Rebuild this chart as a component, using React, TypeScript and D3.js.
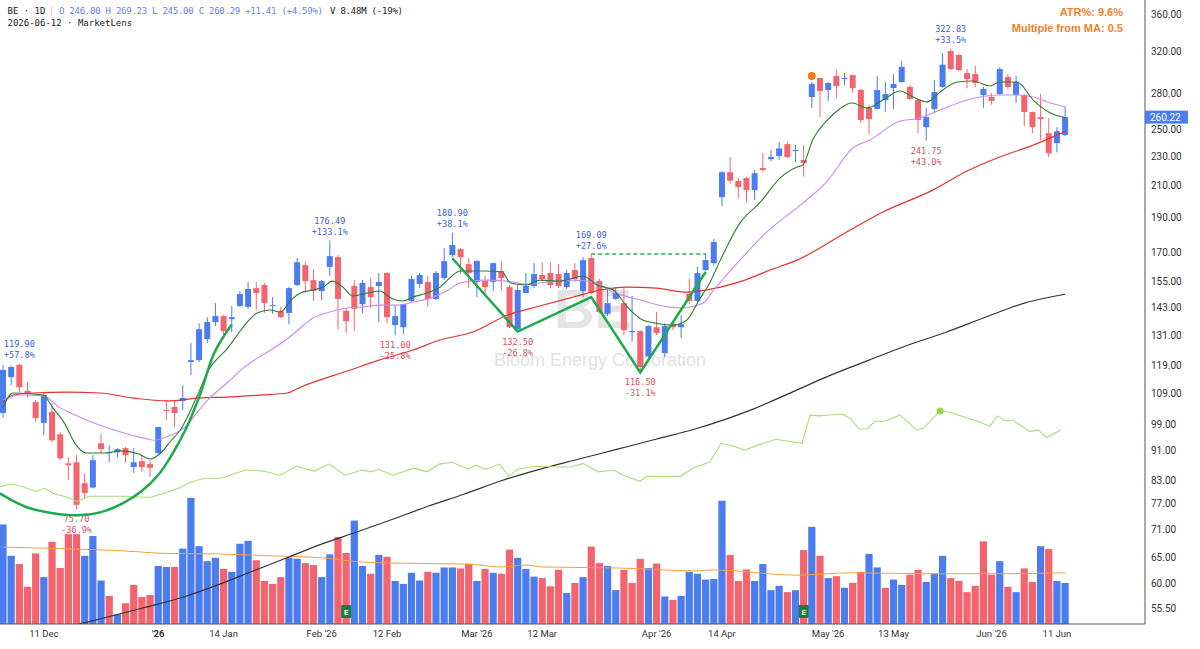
import * as d3 from "d3";

const W = 1200;
const H = 649;
const PLOT_R = 1145;
const PLOT_B = 624;

const BLUE = "#4b7cf0";
const RED = "#f4646f";

// daily bars, bar 0 = 4 Dec 2025 ... bar 130 = 12 Jun 2026
const opens = [
  102.5, 114.8, 119.3, 109.9, 106.1, 99.4, 102.9, 95.9, 87.5, 87.8,
  82.2, 81.1, 93.2, 90.4, 90.6, 91.8, 86.5, 88.1, 87.3, 90.4,
  103.5, 104.5, 106.5, 120.4, 121.1, 129.4, 136.5, 139.1, 137.8, 143.6,
  143.2, 151.9, 153.4, 143.6, 141.4, 140.5, 153.4, 163.3, 155.8, 150.5,
  162.4, 167.5, 141.4, 152.9, 144.4, 152.4, 152.9, 159.3, 135.2, 134.3,
  145.9, 153.9, 154.9, 146.8, 156.8, 168.5, 171.8, 163.8, 154.9, 155.3,
  154.9, 160.3, 152.4, 133.5, 149.6, 152.9, 158.3, 159.3, 158.8, 152.4,
  160.8, 150.5, 167.0, 155.3, 140.1, 146.8, 144.9, 132.2, 132.7, 122.6,
  134.3, 123.8, 135.6, 134.3, 149.1, 145.9, 160.8, 164.3, 202.3, 218.8,
  212.8, 214.8, 206.8, 221.7, 228.0, 230.2, 239.0, 233.8, 227.3, 277.2,
  294.3, 283.4, 296.2, 293.4, 297.1, 283.4, 267.9, 267.0, 274.6, 285.2,
  290.6, 286.1, 274.6, 252.1, 267.0, 286.1, 320.4, 316.4, 299.0, 298.0,
  279.0, 277.2, 279.8, 295.2, 279.0, 279.0, 264.4, 260.2, 247.4, 239.8,
  246.0,
];
const highs = [
  119.3, 119.0, 119.9, 113.0, 106.8, 109.5, 105.8, 96.5, 89.2, 89.8,
  84.9, 89.8, 95.9, 92.6, 91.8, 92.1, 91.8, 89.8, 88.4, 98.2,
  106.8, 106.8, 111.9, 127.8, 136.0, 138.6, 144.9, 139.5, 143.6, 150.5,
  154.9, 154.9, 154.4, 147.7, 143.2, 152.4, 167.0, 164.8, 161.3, 155.8,
  176.49, 168.5, 142.7, 155.8, 155.8, 156.8, 159.3, 159.8, 143.6, 144.6,
  157.8, 159.3, 157.8, 160.3, 172.3, 180.9, 172.3, 167.0, 165.9, 157.8,
  164.8, 165.4, 153.4, 153.4, 159.3, 164.3, 164.8, 164.8, 163.8, 160.8,
  164.3, 167.5, 169.09, 156.3, 151.9, 151.9, 151.9, 148.2, 133.1, 135.2,
  141.0, 136.0, 136.5, 139.5, 156.3, 162.4, 169.6, 177.2, 219.5, 229.5,
  214.8, 215.5, 220.3, 232.4, 234.6, 240.6, 240.6, 238.3, 238.3, 290.6,
  294.8, 290.6, 301.8, 299.0, 297.5, 284.3, 270.5, 296.2, 290.6, 298.0,
  310.5, 287.9, 275.5, 267.9, 292.5, 318.3, 322.83, 317.4, 302.7, 306.0,
  286.1, 280.7, 304.6, 298.0, 296.2, 279.8, 264.8, 279.8, 259.4, 252.1,
  269.23,
];
const lows = [
  101.0, 111.9, 109.5, 107.5, 99.7, 95.6, 93.5, 88.4, 83.0, 75.7,
  78.3, 80.9, 90.4, 87.8, 89.0, 87.8, 84.9, 85.2, 83.8, 89.8,
  100.3, 98.1, 103.5, 115.5, 120.4, 127.8, 134.8, 130.2, 132.2, 143.2,
  142.3, 141.8, 140.5, 140.1, 138.2, 135.6, 152.9, 150.0, 145.9, 146.3,
  157.8, 133.5, 131.9, 132.7, 140.5, 142.7, 136.5, 136.0, 131.0, 131.4,
  145.4, 151.9, 143.2, 146.3, 155.8, 167.5, 158.8, 151.9, 147.7, 149.6,
  150.5, 151.0, 134.0, 132.5, 149.6, 151.9, 154.9, 151.9, 151.9, 151.5,
  154.9, 147.7, 149.0, 140.5, 139.1, 146.3, 131.0, 128.2, 116.5, 122.2,
  131.0, 122.2, 133.1, 129.8, 144.4, 145.4, 160.3, 163.3, 196.6, 211.0,
  201.7, 199.1, 200.4, 218.8, 226.6, 227.3, 228.7, 225.9, 215.7, 267.9,
  260.4, 273.8, 276.3, 287.9, 280.9, 255.4, 246.6, 266.5, 264.4, 267.0,
  290.0, 274.6, 247.4, 241.75, 263.6, 285.5, 301.8, 300.9, 285.2, 286.1,
  267.9, 270.5, 279.0, 284.3, 272.0, 252.9, 247.4, 242.1, 229.5, 232.9,
  245.0,
];
const closes = [
  117.4, 118.5, 111.2, 108.9, 100.9, 108.5, 94.1, 88.9, 87.0, 76.8,
  79.7, 88.4, 91.5, 90.6, 91.5, 89.8, 87.8, 86.5, 86.3, 98.1,
  103.2, 102.5, 107.5, 121.1, 133.5, 136.5, 139.1, 132.7, 138.6, 149.1,
  151.5, 149.6, 145.0, 144.0, 138.7, 151.9, 164.8, 155.3, 150.5, 155.3,
  168.0, 146.8, 136.9, 142.3, 154.4, 147.7, 154.9, 138.7, 139.1, 144.4,
  156.3, 158.3, 146.8, 159.3, 165.4, 174.0, 167.5, 159.3, 165.4, 152.4,
  164.3, 156.8, 134.3, 151.0, 152.9, 158.8, 156.3, 153.4, 152.9, 159.3,
  156.3, 165.9, 149.6, 140.9, 144.9, 149.6, 133.1, 132.7, 118.5, 134.8,
  131.9, 134.8, 134.3, 135.6, 145.9, 159.3, 165.9, 175.6, 218.8, 213.0,
  208.8, 206.8, 218.1, 220.3, 229.5, 235.8, 229.5, 234.6, 225.2, 288.8,
  282.5, 289.7, 287.0, 294.3, 285.2, 257.8, 258.6, 283.4, 279.8, 288.8,
  304.9, 275.5, 257.8, 260.2, 281.6, 306.9, 302.7, 301.8, 293.4, 289.7,
  284.3, 273.8, 302.7, 286.1, 290.6, 264.4, 252.1, 258.6, 232.2, 248.88,
  260.29,
];
// volume, millions of shares
const volumes = [
  20.6, 14.1, 12.4, 7.7, 14.6, 9.7, 17.0, 11.6, 18.6, 18.6,
  14.1, 18.2, 9.0, 5.8, 2.0, 4.3, 8.1, 5.6, 6.0, 12.0,
  11.8, 11.8, 15.6, 26.1, 16.1, 13.0, 13.7, 11.4, 10.8, 16.6,
  17.2, 13.2, 8.9, 8.3, 9.7, 13.7, 13.5, 12.6, 12.2, 9.7,
  14.4, 18.0, 14.7, 21.4, 12.0, 10.4, 14.3, 13.9, 8.9, 8.3,
  10.6, 9.0, 10.8, 10.6, 11.7, 11.7, 11.5, 12.4, 8.9, 11.4,
  10.6, 10.4, 15.4, 13.7, 11.4, 9.8, 9.5, 7.8, 11.2, 6.4,
  8.5, 9.7, 16.0, 12.6, 12.0, 7.0, 11.2, 8.5, 13.5, 11.6,
  12.5, 5.7, 5.0, 5.8, 10.8, 10.4, 9.2, 9.3, 25.5, 14.3,
  8.9, 11.3, 8.9, 12.4, 7.0, 7.9, 6.6, 7.0, 15.3, 20.1,
  14.1, 9.5, 9.9, 7.5, 8.5, 10.8, 14.5, 11.7, 7.5, 9.2,
  8.1, 10.2, 11.2, 8.7, 10.4, 14.1, 9.5, 8.9, 6.6, 7.9,
  17.1, 10.2, 13.0, 7.7, 6.6, 11.5, 8.7, 16.1, 15.5, 8.9,
  8.48,
];

// indicator lines: [bar, value]
const ema10 = [
  [0, 104.2], [1.2, 109.2], [4.9, 108.5], [6.1, 104.2], [7.5, 99.4], [8.8, 93.2],
  [10.2, 90.4], [12.4, 90.4], [14.4, 91.0], [16.6, 90.1], [18, 88.7], [19.3, 90.4],
  [20.6, 94.1], [21.7, 97.2], [23.7, 107.8], [25.3, 118.1], [26.2, 121.5], [27.4, 125.4],
  [28.6, 130.7], [29.9, 136.5], [31.1, 140.5], [32.7, 141.8], [33.9, 140.9], [35.5, 147.2],
  [36.4, 149.6], [37.9, 151.0], [39.2, 152.4], [40.3, 155.3], [41.6, 152.4], [42.8, 148.2],
  [44.6, 149.6], [46.1, 150.5], [47.7, 146.8], [49, 145.9], [50.2, 147.7], [51.9, 149.6],
  [53.5, 152.4], [55.1, 158.3], [55.9, 160.3], [58.8, 160.3], [61.1, 159.8], [62.1, 154.4],
  [64.1, 153.4], [65.7, 155.8], [68.2, 155.3], [71, 157.8], [72.7, 153.4], [74.7, 151.0],
  [76.4, 143.2], [78.3, 137.4], [79.9, 136.0], [82, 135.2], [83.7, 137.4], [85.2, 146.3],
  [86.5, 154.4], [87.8, 165.9], [90.2, 186.4], [92.7, 199.1], [95.1, 214.8], [97.2, 222.4],
  [97.9, 223.8], [99.1, 242.1], [100.9, 257.8], [102.4, 267.0], [103.9, 272.0], [105.8, 267.9],
  [107.7, 274.6], [109.8, 282.5], [111.4, 277.2], [113.1, 273.0], [114.7, 281.6], [116.8, 290.6],
  [118.7, 291.5], [120.8, 287.0], [122, 290.6], [124.1, 290.6], [126.1, 274.6], [128.2, 263.6],
  [130, 259.8],
];
const ema21 = [
  [0, 106.8], [2.1, 108.5], [4.9, 108.2], [7, 104.2], [8.3, 102.5], [10.5, 100.0],
  [13.6, 97.2], [17.1, 94.8], [18.5, 94.1], [20.2, 95.3], [22.4, 98.4], [24.1, 103.8],
  [25.3, 107.5], [27.4, 112.6], [29.4, 118.1], [31.5, 122.6], [33.5, 126.5], [35.5, 131.4],
  [37.9, 138.2], [40, 140.9], [42.1, 142.7], [44.1, 143.2], [46.1, 144.0], [48.2, 144.0],
  [50.2, 145.4], [52.3, 147.2], [54.3, 150.5], [55.9, 154.4], [58.8, 155.8], [61.7, 155.3],
  [64.1, 153.9], [67, 154.9], [69.8, 155.8], [72.2, 154.9], [74.7, 150.0], [78, 146.3],
  [81.3, 143.2], [83.2, 142.7], [85.7, 144.9], [87, 151.0], [90.2, 165.9], [93.5, 181.3],
  [97.9, 198.5], [100.9, 212.8], [104, 236.1], [106.1, 242.1], [109.8, 257.0], [112.2, 259.4],
  [114.7, 266.1], [118, 274.6], [122, 279.0], [124.1, 279.0], [126.1, 277.2], [128.2, 272.0],
  [130, 268.8],
];
const sma50 = [
  [0, 106.1], [1.2, 108.5], [3.7, 109.2], [7.8, 109.5], [11.9, 109.2], [15.9, 107.5],
  [20.1, 106.5], [24.1, 107.5], [27.4, 107.8], [31.5, 108.5], [34.8, 109.2], [36.4, 111.2],
  [42.5, 117.4], [46, 121.1], [50.2, 125.0], [53.5, 129.0], [57.5, 132.3], [61.7, 139.5],
  [65.7, 143.6], [69.8, 147.7], [73.1, 151.0], [76.4, 152.4], [80, 151.9], [83.7, 150.0],
  [87.8, 152.4], [90.8, 155.8], [93.9, 160.8], [97.2, 165.9], [103.7, 182.4], [107.7, 193.0],
  [113.8, 206.8], [118, 219.6], [122, 229.5], [126.1, 238.3], [130, 248.6],
];
const sma200 = [
  [0, 50.0], [10.3, 53.1], [17.1, 55.5], [22.4, 57.6], [25.8, 59.4], [30.2, 62.1],
  [34.6, 64.9], [38.9, 67.8], [43.3, 70.5], [47.7, 73.4], [52.1, 76.5], [56.4, 79.4],
  [60.8, 82.7], [65.2, 85.6], [70.5, 88.7], [75.2, 91.5], [79.9, 94.4], [84.7, 97.5],
  [91.8, 103.8], [96.6, 109.5], [101.3, 115.5], [106, 121.1], [110.8, 127.0], [115.5, 132.3],
  [120.3, 138.7], [125, 144.9], [130, 149.0],
];
// relative strength line, plotted on the price scale
const rsLine = [
  [-0.4, 81.3], [1, 82.0], [2.2, 81.4], [4, 80.1], [5.1, 80.9], [6.2, 79.6], [8, 78.6],
  [9.1, 77.6], [10.5, 78.9], [12.7, 78.9], [14.9, 78.9], [18, 78.6], [19.3, 79.4],
  [21.5, 80.9], [22.8, 82.3], [24.6, 83.5], [26.7, 83.5], [28, 84.5], [29.7, 85.7],
  [31.9, 85.4], [33.9, 84.3], [35.9, 86.7], [38.1, 85.4], [39.9, 87.3], [41.9, 84.3],
  [43.9, 85.7], [45, 85.2], [46, 85.9], [47.7, 84.3], [50.3, 86.2], [51.9, 85.2],
  [53.4, 87.3], [55, 87.8], [56.9, 85.9], [57.8, 87.0], [59.1, 85.9], [60.8, 87.3],
  [61.9, 84.0], [63, 85.9], [65.2, 86.7], [68.1, 86.5], [69.5, 86.5], [71, 87.5],
  [72.8, 85.2], [74.8, 85.7], [75.9, 84.3], [78, 82.7], [78.8, 84.0], [80.9, 84.0],
  [82.9, 84.0], [84.7, 86.5], [86.5, 87.8], [87.9, 93.2], [89.5, 92.3], [90.8, 91.2],
  [92.3, 92.6], [94.6, 94.4], [96.1, 93.8], [97.8, 93.2], [98.8, 101.9], [99.9, 101.6],
  [101.1, 101.9], [102.7, 102.2], [103.7, 100.9], [104.8, 97.5], [105.8, 97.5], [106.7, 99.9],
  [108, 99.9], [109.8, 101.9], [111.8, 97.2], [112.7, 97.8], [114.7, 103.2], [116, 102.7],
  [117.9, 101.0], [119.3, 99.9], [120.8, 98.3], [121.7, 101.6], [122.6, 100.1], [123.6, 100.3],
  [125, 97.8], [125.7, 96.7], [126.7, 97.2], [127.7, 94.9], [129.5, 97.2],
];
const rsHigh = [114.7, 103.2];
const volMA = [
  [0, 15.9], [5, 15.7], [9, 15.5], [15, 15.1], [20, 14.6], [26, 14.5], [33, 14.1],
  [39, 13.7], [44, 12.8], [48, 12.6], [57, 12.4], [61, 11.8], [64, 12.2], [66, 11.8],
  [75, 11.6], [85, 11.0], [87, 11.2], [97, 10.1], [104, 10.6], [113, 10.4], [122, 10.4],
  [130, 10.6],
];

// pattern drawings
const cupCurve = [
  [-0.4, 79.6], [2.9, 76.2], [6.1, 74.8], [9.1, 74.3], [11.9, 75.0], [14.7, 77.2],
  [17.1, 80.4], [19.2, 84.9], [20.8, 90.4], [22.5, 98.1], [24.1, 108.5], [25.9, 124.2],
  [28, 135.5],
];
const zigzag = [[55, 166.9], [63, 132.5], [72, 147.7], [78, 116.5], [86, 159.8]];
const pivotLine = { from: 72, to: 86, price: 169.09 };

const pivotIdx = [2, 9, 40, 48, 55, 63, 72, 78, 113, 116];
const pivotPrice = [119.9, 75.7, 176.49, 131.0, 180.9, 132.5, 169.09, 116.5, 241.75, 322.83];
const pivotPct = ["+57.8%", "-36.9%", "+133.1%", "-25.8%", "+38.1%", "-26.8%", "+27.6%", "-31.1%", "+43.0%", "+33.5%"];
const pivotKind = ["H", "L", "H", "L", "H", "L", "H", "L", "L", "H"];

const earningsIdx = [42, 98];
const signalIdx = 99;

const priceTicks = [360, 320, 280, 250, 230, 210, 190, 170, 155, 143, 131, 119, 109, 99, 91, 83, 77, 71, 65, 60, 55.5];
const dateIdx = [5, 19, 27, 39, 47, 58, 66, 80, 88, 101, 109, 121, 129];
const dateText = ["11 Dec", "'26", "14 Jan", "Feb '26", "12 Feb", "Mar '26", "12 Mar", "Apr '26", "14 Apr", "May '26", "13 May", "Jun '26", "11 Jun"];
const lastPrice = 260.22;

const MONO = "'DejaVu Sans Mono', monospace";
const SANS = "Roboto, 'Liberation Sans', Arial, sans-serif";

export default function App() {
  const x = d3.scaleLinear().domain([0, 130]).range([3, 3 + 130 * 8.17]);
  const y = d3.scaleLog().domain([55.5, 360]).range([608, 14]);
  const yv = d3.scaleLinear().domain([0, 30]).range([PLOT_B, PLOT_B - 145]);

  const smooth = d3
    .line<number[]>()
    .x((d) => x(d[0]))
    .y((d) => y(d[1]))
    .curve(d3.curveMonotoneX);
  const straight = d3
    .line<number[]>()
    .x((d) => x(d[0]))
    .y((d) => y(d[1]));
  const cup = d3
    .line<number[]>()
    .x((d) => x(d[0]))
    .y((d) => y(d[1]))
    .curve(d3.curveCatmullRom);
  const volLine = d3
    .line<number[]>()
    .x((d) => x(d[0]))
    .y((d) => yv(d[1]))
    .curve(d3.curveMonotoneX);

  const volColor = (i: number) => {
    if (i === 0) return closes[0] >= opens[0] ? BLUE : RED;
    return closes[i] >= closes[i - 1] ? BLUE : RED;
  };

  return (
    <svg
      width={W}
      height={H}
      style={{ position: "absolute", left: 0, top: 0, background: "#fff" }}
    >
      <defs>
        <clipPath id="plot">
          <rect x={0} y={0} width={PLOT_R} height={PLOT_B} />
        </clipPath>
      </defs>

      {/* watermark */}
      <text x={593} y={328} textAnchor="middle" fontFamily="'Liberation Sans', Arial" fontWeight="bold" fontSize={56} fill="#e4e4e4">
        BE
      </text>
      <text x={600} y={366} textAnchor="middle" fontFamily="'Liberation Sans', Arial" fontSize={18} fill="#e2e2e2">
        Bloom Energy Corporation
      </text>

      <g clipPath="url(#plot)">
        {/* volume */}
        {volumes.map((v, i) => (
          <rect key={"v" + i} x={x(i) - 3.6} y={yv(v)} width={7.2} height={PLOT_B - yv(v)} fill={volColor(i)} />
        ))}
        <path d={volLine(volMA) || ""} fill="none" stroke="#f5a03c" strokeWidth={1} />

        {/* candles */}
        {closes.map((c, i) => {
          const o = opens[i];
          const col = c >= o ? BLUE : RED;
          const top = y(Math.max(o, c));
          const bot = y(Math.min(o, c));
          return (
            <g key={"c" + i}>
              <line x1={x(i)} x2={x(i)} y1={y(highs[i])} y2={y(lows[i])} stroke={col} strokeWidth={1} />
              <rect x={x(i) - 3} y={top} width={6} height={Math.max(1, bot - top)} fill={col} />
            </g>
          );
        })}

        {/* moving averages and RS */}
        <path d={smooth(sma200) || ""} fill="none" stroke="#333" strokeWidth={1.2} />
        <path d={straight(rsLine) || ""} fill="none" stroke="#a6de78" strokeWidth={1.1} />
        <path d={smooth(sma50) || ""} fill="none" stroke="#e5322f" strokeWidth={1.2} />
        <path d={smooth(ema21) || ""} fill="none" stroke="#c58cf2" strokeWidth={1.1} />
        <path d={smooth(ema10) || ""} fill="none" stroke="#2e7d32" strokeWidth={1.1} />
        <circle cx={x(rsHigh[0])} cy={y(rsHigh[1])} r={3.5} fill="#8ee04a" />

        {/* patterns */}
        <path d={cup(cupCurve) || ""} fill="none" stroke="#1daa4c" strokeWidth={2.5} />
        <path d={straight(zigzag) || ""} fill="none" stroke="#1daa4c" strokeWidth={2.5} strokeLinejoin="miter" />
        <line
          x1={x(pivotLine.from)}
          x2={x(pivotLine.to)}
          y1={y(pivotLine.price)}
          y2={y(pivotLine.price)}
          stroke="#2bb04e"
          strokeWidth={1.6}
          strokeDasharray="4 3"
        />
        <circle cx={x(signalIdx)} cy={y(highs[signalIdx]) - 6} r={4} fill="#f07a22" />

        {/* earnings */}
        {earningsIdx.map((k) => (
          <g key={"e" + k}>
            <rect x={x(k) - 5} y={605} width={10} height={13} rx={1} fill="#1b7f3b" />
            <text x={x(k)} y={615} textAnchor="middle" fontFamily={SANS} fontWeight="bold" fontSize={8} fill="#fff">
              E
            </text>
          </g>
        ))}
      </g>

      {/* pivot labels */}
      {pivotIdx.map((k, j) => {
        const hi = pivotKind[j] === "H";
        const py = y(pivotPrice[j]);
        const col = hi ? "#3d5fdc" : "#d4505c";
        return (
          <g key={"p" + j} fontFamily={MONO} fontSize={8.6} fill={col} textAnchor="middle">
            <text x={x(k)} y={hi ? py - 16.5 : py + 13}>{pivotPrice[j].toFixed(2)}</text>
            <text x={x(k)} y={hi ? py - 5.5 : py + 24}>{pivotPct[j]}</text>
          </g>
        );
      })}

      {/* frame */}
      <line x1={PLOT_R} x2={PLOT_R} y1={0} y2={PLOT_B} stroke="#555" strokeWidth={1} />
      <line x1={0} x2={PLOT_R} y1={PLOT_B} y2={PLOT_B} stroke="#555" strokeWidth={1} />

      {/* price axis */}
      {priceTicks.map((t) => (
        <text key={"t" + t} x={1151} y={y(t) + 3.5} fontFamily={SANS} fontSize={10} fill="#333">
          {t.toFixed(2)}
        </text>
      ))}
      <rect x={PLOT_R} y={y(lastPrice) - 6.5} width={43} height={13} fill="#4a7ef3" />
      <text x={1150} y={y(lastPrice) + 3.5} fontFamily={SANS} fontSize={10} fill="#fff">
        {lastPrice.toFixed(2)}
      </text>

      {/* date axis */}
      {dateIdx.map((k, j) => (
        <text
          key={"d" + k}
          x={x(k)}
          y={637}
          textAnchor="middle"
          fontFamily={SANS}
          fontSize={9.5}
          fontWeight={dateText[j] === "'26" ? "bold" : "normal"}
          fill="#333"
        >
          {dateText[j]}
        </text>
      ))}

      {/* header */}
      <g fontFamily={MONO} fontSize={9}>
        <text x={7.5} y={14} fill="#131722">BE · 1D</text>
        <text x={49} y={14} fill="#c8c8c8">|</text>
        <text x={59} y={14} fill="#5f82f2" textLength={264} lengthAdjust="spacing">
          O 246.00 H 269.23 L 245.00 C 260.29 +11.41 (+4.59%)
        </text>
        <text x={330} y={14} fill="#222" textLength={73} lengthAdjust="spacing">
          V 8.48M (-19%)
        </text>
        <text x={7.5} y={26} fill="#222">2026-06-12 · MarketLens</text>
      </g>
      <g fontFamily="'Liberation Sans', Arial, sans-serif" fontWeight="bold" fontSize={11} fill="#f27f2a" textAnchor="end">
        <text x={1123} y={16}>ATR%:  9.6%</text>
        <text x={1123} y={32}>Multiple from MA:  0.5</text>
      </g>
    </svg>
  );
}
